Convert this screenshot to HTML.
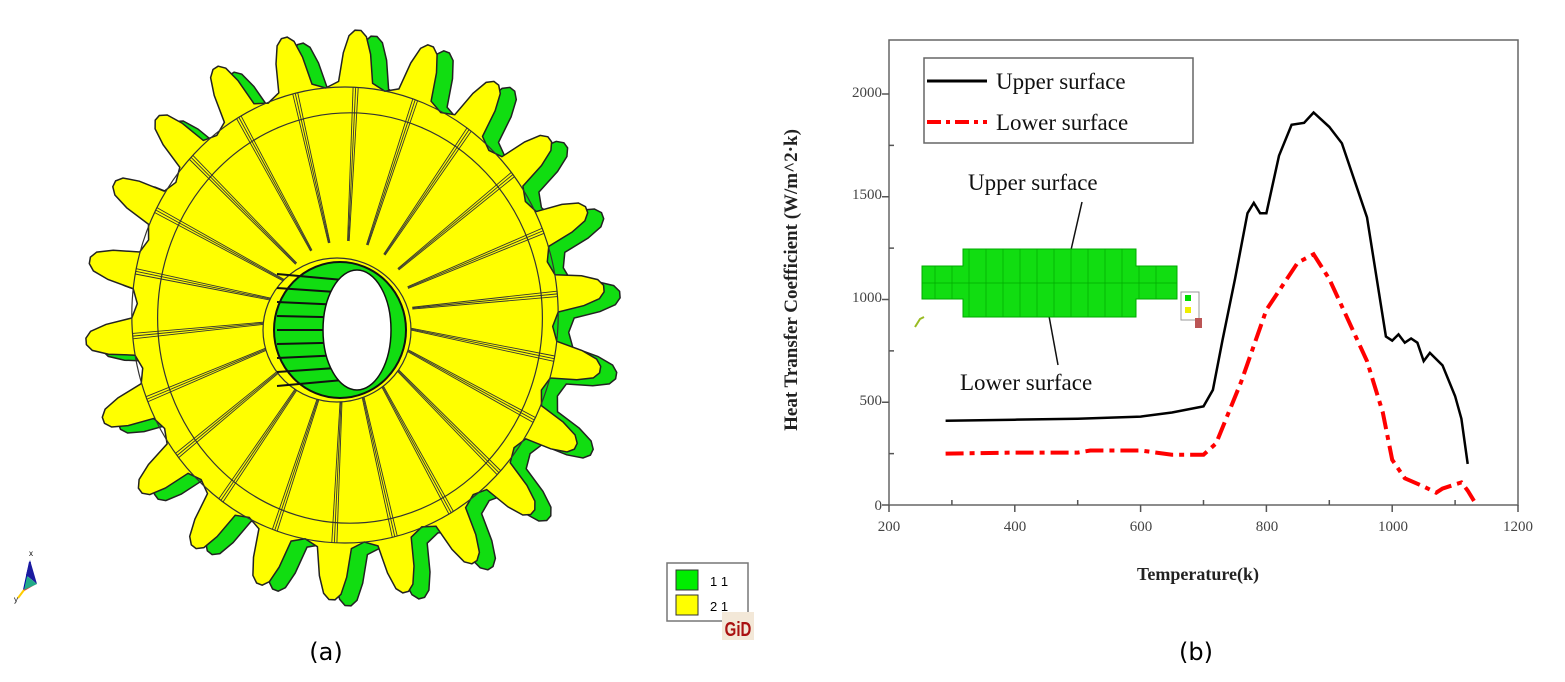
<!DOCTYPE html>
<html><head><meta charset="utf-8"><style>
html,body{margin:0;padding:0;background:#fff;}
svg{display:block;}
</style></head><body>
<svg id="s" width="1565" height="682" viewBox="0 0 1565 682" xmlns="http://www.w3.org/2000/svg">
<g id="gear"></g>
<g stroke-width="2">
<line x1="24" y1="590" x2="30" y2="562" stroke="#00a"/>
<line x1="24" y1="590" x2="36" y2="583" stroke="#e33"/>
<line x1="24" y1="590" x2="18" y2="598" stroke="#fc0"/>
<polygon points="30,560 26,575 37,584" fill="#1a1aa0"/>
<polygon points="27,576 37,584 24,590" fill="#2a8"/>
</g>
<text x="29" y="556" font-family="Liberation Sans,sans-serif" font-size="8">x</text>
<text x="14" y="602" font-family="Liberation Sans,sans-serif" font-size="8">y</text>
<rect x="667" y="563" width="81" height="58" fill="#fff" stroke="#777" stroke-width="1.5"/>
<rect x="676" y="570" width="22" height="20" fill="#0e0" stroke="#333"/>
<rect x="676" y="595" width="22" height="20" fill="#ff0" stroke="#333"/>
<text x="710" y="586" font-family="Liberation Sans,sans-serif" font-size="13">1 1</text>
<text x="710" y="611" font-family="Liberation Sans,sans-serif" font-size="13">2 1</text>
<rect x="722" y="612" width="32" height="28" fill="#f3e8d8"/>
<text x="738" y="636" text-anchor="middle" font-family="Liberation Sans,sans-serif" font-weight="bold" font-size="20" fill="#a11" transform="translate(738,0) scale(0.75,1) translate(-738,0)">GiD</text>
<text x="326" y="660" text-anchor="middle" font-family="DejaVu Sans,sans-serif" font-size="24">(a)</text>
<text x="1196" y="660" text-anchor="middle" font-family="DejaVu Sans,sans-serif" font-size="24">(b)</text>

<rect x="889" y="40" width="629" height="465" fill="none" stroke="#666" stroke-width="1.5"/>
<g id="ticks" stroke="#555" stroke-width="1.5"></g>
<g font-family="Liberation Serif,serif" font-size="15" fill="#444" text-anchor="middle">
<text x="889" y="531">200</text><text x="1015" y="531">400</text><text x="1141" y="531">600</text>
<text x="1267" y="531">800</text><text x="1393" y="531">1000</text><text x="1518" y="531">1200</text>
</g>
<g font-family="Liberation Serif,serif" font-size="15" fill="#444" text-anchor="end">
<text x="882" y="510">0</text><text x="882" y="405">500</text><text x="882" y="302">1000</text>
<text x="882" y="199">1500</text><text x="882" y="97">2000</text>
</g>
<text x="1198" y="580" text-anchor="middle" font-family="Liberation Serif,serif" font-weight="bold" font-size="18" fill="#222">Temperature(k)</text>
<text transform="translate(797,280) rotate(-90)" text-anchor="middle" font-family="Liberation Serif,serif" font-weight="bold" font-size="19" fill="#222">Heat Transfer Coefficient (W/m^2·k)</text>
<rect x="924" y="58" width="269" height="85" fill="#fff" stroke="#666" stroke-width="1.5"/>
<line x1="927" y1="81" x2="987" y2="81" stroke="#000" stroke-width="3"/>
<line x1="927" y1="122" x2="987" y2="122" stroke="#f00" stroke-width="4" stroke-dasharray="14,5,4,5"/>
<g font-family="Liberation Serif,serif" font-size="23" fill="#111">
<text x="996" y="89">Upper surface</text><text x="996" y="130">Lower surface</text>
<text x="968" y="190">Upper surface</text><text x="960" y="390">Lower surface</text>
</g>
<line x1="1082" y1="202" x2="1071" y2="250" stroke="#111" stroke-width="1.5"/>
<line x1="1049" y1="316" x2="1058" y2="365" stroke="#111" stroke-width="1.5"/>
<path d="M922,266 H963 V249 H1136 V266 H1177 V299 H1136 V317 H963 V299 H922 Z" fill="#1d1" stroke="#0a0"/>
<g stroke="#0a0" stroke-width="0.7" id="inset"></g>
<rect x="1181" y="292" width="18" height="28" fill="#fff" stroke="#999"/>
<rect x="1185" y="295" width="6" height="6" fill="#0d0"/><rect x="1185" y="307" width="6" height="6" fill="#ee0"/>
<rect x="1195" y="318" width="7" height="10" fill="#b55"/>
<path d="M915,327 l5,-8 l4,-2" stroke="#9b2" stroke-width="2" fill="none"/>
<path id="up" fill="none" stroke="#000" stroke-width="2.5"/>
<path id="lo" fill="none" stroke="#f00" stroke-width="4" stroke-dasharray="18,6,5,6"/>
</svg>
<script>
var NS="http://www.w3.org/2000/svg";
function el(p,t,a){var e=document.createElementNS(NS,t);for(var k in a)e.setAttribute(k,a[k]);p.appendChild(e);return e;}
function X(t){return 889+(t-200)*0.629;}
function Y(v){return 505-v*0.2055;}
var up=[[290,410],[400,415],[500,420],[600,430],[650,450],[700,480],[715,560],[730,800],[750,1100],[770,1420],[780,1470],[790,1420],[800,1420],[820,1700],[840,1850],[860,1860],[875,1910],[900,1840],[920,1760],[960,1400],[990,820],[1000,800],[1010,830],[1020,790],[1030,810],[1040,790],[1050,700],[1060,740],[1080,680],[1100,530],[1110,420],[1120,200]];
var lo=[[290,250],[400,255],[500,255],[520,265],[600,265],[650,245],[700,245],[720,300],[760,600],[800,950],[850,1180],[875,1220],[900,1100],[930,900],[960,700],[985,450],[1000,220],[1020,130],[1050,90],[1070,60],[1080,80],[1100,100],[1110,110],[1120,70],[1130,20]];
function pd(a){return a.map(function(p,i){return (i?"L":"M")+X(p[0]).toFixed(1)+","+Y(p[1]).toFixed(1);}).join(" ");}
document.getElementById("up").setAttribute("d",pd(up));
document.getElementById("lo").setAttribute("d",pd(lo));
var tk=document.getElementById("ticks");
for(var t=200;t<=1200;t+=100){var x=X(t);el(tk,"line",{x1:x,y1:505,x2:x,y2:t%200?500:512});}
for(var v=0;v<=2000;v+=250){var y=Y(v);el(tk,"line",{x1:889,y1:y,x2:v%500?894:882,y2:y});}
var ins=document.getElementById("inset");
for(var i=0;i<14;i++){var x=935+i*17;el(ins,"line",{x1:x,y1:x<963||x>1136?266:249,x2:x,y2:x<963||x>1136?299:317});}
el(ins,"line",{x1:922,y1:283,x2:1177,y2:283});
var g=document.getElementById("gear");
var cx=345,cy=315,rx=260,ry=285,N=22;
function pt(a,r,dx,dy){return [(cx+dx+Math.cos(a)*rx*r).toFixed(1),(cy+dy+Math.sin(a)*ry*r).toFixed(1)].join(",");}
function gearPath(dx,dy){var s=[],p=2*Math.PI/N;
for(var i=0;i<N;i++){var a=i*p-Math.PI/2+0.05;
s.push(pt(a-0.5*p,0.8,dx,dy),pt(a-0.28*p,0.82,dx,dy),pt(a-0.2*p,0.92,dx,dy),pt(a-0.12*p,0.98,dx,dy),pt(a-0.04*p,1,dx,dy),pt(a+0.04*p,1,dx,dy),pt(a+0.12*p,0.98,dx,dy),pt(a+0.2*p,0.92,dx,dy),pt(a+0.28*p,0.82,dx,dy));}
return "M"+s.join(" L")+"Z";}
el(g,"path",{d:gearPath(16,6),fill:"#11dd11",stroke:"#222","stroke-width":1.5});
el(g,"path",{d:gearPath(0,0),fill:"#ffff00",stroke:"#222","stroke-width":1.5});
el(g,"ellipse",{cx:cx,cy:cy,rx:rx*0.82,ry:ry*0.8,fill:"none",stroke:"#333","stroke-width":1.2});
el(g,"ellipse",{cx:cx+5,cy:cy+3,rx:rx*0.74,ry:ry*0.72,fill:"none",stroke:"#333","stroke-width":1.2});
for(var i=0;i<N;i++){var a=i*2*Math.PI/N-Math.PI/2+0.05;
for(var k=0;k<3;k++){var b=a+(k-1)*0.012;
el(g,"line",{x1:cx+Math.cos(b)*rx*0.26,y1:cy+Math.sin(b)*ry*0.26,x2:cx+Math.cos(b)*rx*0.82,y2:cy+Math.sin(b)*ry*0.8,stroke:"#333","stroke-width":0.9});}}
el(g,"ellipse",{cx:cx-8,cy:cy+15,rx:74,ry:72,fill:"#ffff00",stroke:"#333","stroke-width":1.2});
el(g,"ellipse",{cx:cx-5,cy:cy+15,rx:66,ry:68,fill:"#11dd11",stroke:"#111","stroke-width":2});
for(var j=-4;j<=4;j++){el(g,"line",{x1:cx-68,y1:cy+15+j*14,x2:cx+20,y2:cy+15+j*12,stroke:"#111","stroke-width":2});}
el(g,"ellipse",{cx:cx+12,cy:cy+15,rx:34,ry:60,fill:"#fff",stroke:"#111","stroke-width":1.5});
</script>
</body></html>
